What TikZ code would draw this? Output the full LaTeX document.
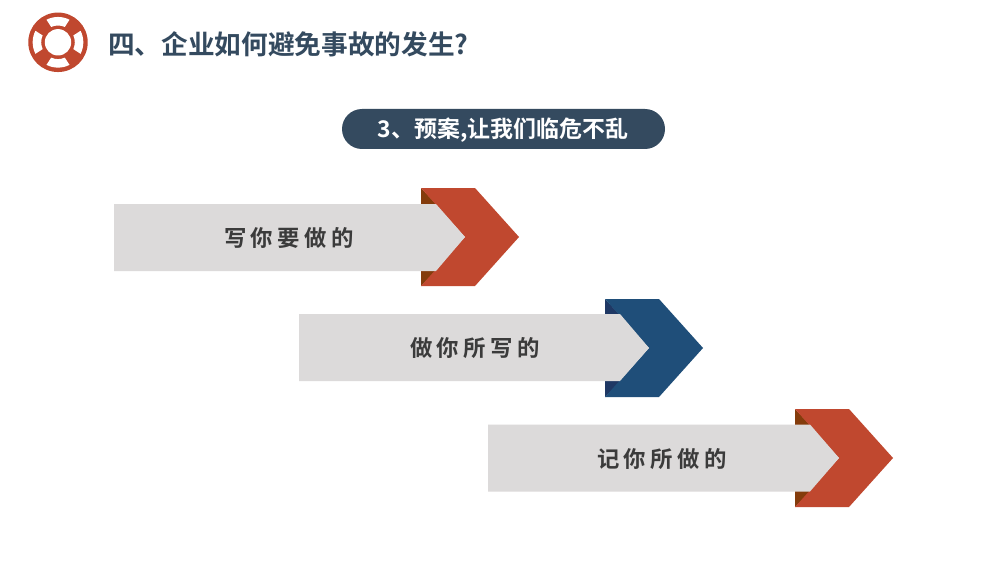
\documentclass[tikz,border=0pt]{standalone}
\usepackage{fontspec}
\setmainfont{Noto Sans CJK SC}[BoldFont={* Bold}]
\newfontfamily\spaced{Noto Sans CJK SC}[BoldFont={* Bold},LetterSpace=20]
\definecolor{cred}{HTML}{C0482F}
\definecolor{cbrown}{HTML}{843C0C}
\definecolor{cblue}{HTML}{1F4E79}
\definecolor{cdblue}{HTML}{1F3864}
\definecolor{cgray}{HTML}{DCDADA}
\definecolor{cnavy}{HTML}{344A5F}
\definecolor{ctext}{HTML}{3B3B3B}
\tikzset{
  titletext/.style={font=\bfseries\fontsize{20}{24}\selectfont,text=cnavy,inner sep=0,anchor=west},
  pilltext/.style={font=\bfseries\fontsize{17.2}{22}\selectfont,text=white,inner sep=0},
  steptext/.style={font=\spaced\bfseries\fontsize{16.8}{20}\selectfont,text=ctext,inner sep=0},
  pill/.style={fill=cnavy,rounded corners=15pt},
  panel/.style={fill=white,draw=none}
}
% #1 x of chevron left, #2 y of top, #3 gray left, #4 main colour, #5 dark colour, #6 gray top
\newcommand{\arrowshape}[6]{%
  \fill[#5] (#1,#2) -- (#1,#2+98) -- (#1+15,#2+83) -- (#1+15,#2+16) -- cycle;
  \fill[#4] (#1,#2) -- (#1+54,#2) -- (#1+98,#2+49) -- (#1+54,#2+98) -- (#1,#2+98) -- (#1+44,#2+49) -- cycle;
  \fill[cgray] (#3,#6) -- (#1+15,#6) -- (#1+44,#2+49) -- (#1+15,#6+67) -- (#3,#6+67) -- cycle;
}
\begin{document}
\begin{tikzpicture}[x=0.75pt,y=-0.75pt]
\useasboundingbox (0,0) rectangle (1002,563);
\fill[white] (0,0) rectangle (1002,563);
% lifebuoy
\begin{scope}[shift={(58,42.3)}]
  \fill[cred] (0,0) circle[radius=22.3pt];
  \fill[white] (0,0) circle[radius=9.9pt];
  \foreach \a in {0,90,180,270}{
    \fill[panel] (\a-24:12.6pt) arc[start angle=\a-24,end angle=\a+24,radius=12.6pt]
      -- (\a+27:19pt) arc[start angle=\a+27,end angle=\a-27,radius=19pt] -- cycle;
  }
\end{scope}
\node[titletext] (title) at (108,44) {四、企业如何避免事故的发生?};
\fill[pill] (342,109) rectangle (665,149);
\node[pilltext] (sub) at (503,130) {3、预案,让我们临危不乱};
\arrowshape{421}{188}{114}{cred}{cbrown}{204}
\node[steptext] (s1) at (289,238) {写你要做的};
\arrowshape{605}{299}{299}{cblue}{cdblue}{314}
\node[steptext] (s2) at (475,348) {做你所写的};
\arrowshape{795}{409}{488}{cred}{cbrown}{424.5}
\node[steptext] (s3) at (662,459) {记你所做的};
\end{tikzpicture}
\end{document}
